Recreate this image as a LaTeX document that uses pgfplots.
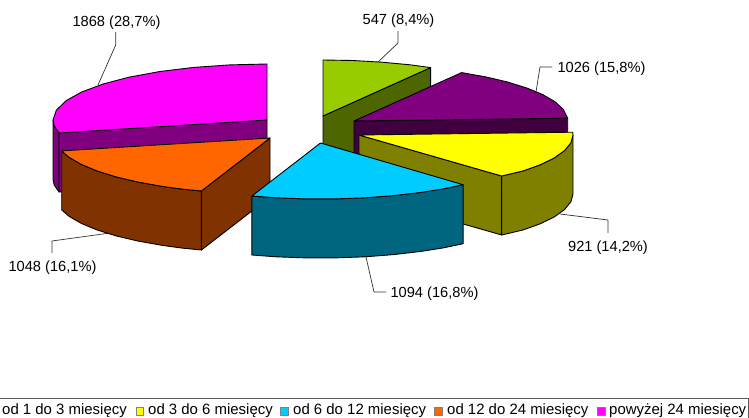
\documentclass[border=0pt]{standalone}
\usepackage{pgfplots}
\pgfplotsset{compat=1.18}
\usepackage{fontspec}
\setmainfont{Liberation Sans}
\definecolor{gA}{HTML}{99CC00}\definecolor{gB}{HTML}{4D6600}
\definecolor{pA}{HTML}{800080}\definecolor{pB}{HTML}{400040}
\definecolor{yA}{HTML}{FFFF00}\definecolor{yB}{HTML}{808000}
\definecolor{cA}{HTML}{00CCFF}\definecolor{cB}{HTML}{006680}
\definecolor{oA}{HTML}{FF6600}\definecolor{oB}{HTML}{803300}
\definecolor{mA}{HTML}{FF00FF}\definecolor{mB}{HTML}{800080}
\tikzset{
  lbl/.style={font=\fontsize{14.7}{17}\selectfont, text=black, inner sep=0pt, anchor=center},
  lgd/.style={font=\fontsize{15}{17}\selectfont, text=black, inner sep=0pt, anchor=base west},
}
\begin{document}
\begin{tikzpicture}
\useasboundingbox (0,0) rectangle (749bp,418bp);
\begin{axis}[
  scale only axis, width=749bp, height=418bp,
  at={(0,0)}, anchor=south west,
  xmin=0, xmax=749, ymin=0, ymax=418, y dir=reverse,
  axis lines=none, no markers, clip=true,
  every axis plot/.append style={line width=0.9bp, draw=black, line join=round},
]
% leader lines
\addplot[line width=0.7bp, draw=black!80] coordinates {(98,85) (115.7,45) (115.7,32)};
\addplot[line width=0.7bp, draw=black!80] coordinates {(378,62) (398,43) (398,31)};
\addplot[line width=0.7bp, draw=black!80] coordinates {(536,92) (540,67) (552,67)};
\addplot[line width=0.7bp, draw=black!80] coordinates {(560,214) (608,220) (608,233)};
\addplot[line width=0.7bp, draw=black!80] coordinates {(366,257) (374,292) (386,292)};
\addplot[line width=0.7bp, draw=black!80] coordinates {(110,233) (52,241) (52,253)};
% magenta slice
\addplot[fill=mB] coordinates {(53,120) (54.2,125.9) (59,133) (59,192) (54.2,185) (53,179)} --cycle;
\addplot[fill=mB] coordinates {(59,133) (267,120) (267,179) (59,192)} --cycle;
\addplot[fill=mA] coordinates {(267,64) (229.8,64.9) (193.8,67.4) (160,71.5) (129.4,77.1) (103.1,84) (81.7,92) (65.9,100.8) (56.3,110.3) (53,120) (54.2,125.9) (59,133) (267,120)} --cycle;
% green slice
\addplot[fill=gB] coordinates {(323,116) (430.6,67.6) (430.6,127) (323,175)} --cycle;
\addplot[fill=gA] coordinates {(323,60) (352.8,60.5) (382,62.2) (410,64.8) (430.6,67.6) (323,116)} --cycle;
% purple slice
\addplot[fill=pB] coordinates {(354,121) (567.7,118.2) (567.7,177) (354,180)} --cycle;
\addplot[fill=pA] coordinates {(461.6,72.6) (485.8,76.9) (507.9,82.1) (527.1,88.1) (542.9,94.7) (555.1,101.8) (563.3,109.4) (567.7,118.2) (354,121)} --cycle;
% yellow slice
\addplot[fill=yB] coordinates {(359,135) (501.6,176) (501.6,235) (359,194)} --cycle;
\addplot[fill=yB] coordinates {(501.6,176) (522.9,171) (540.5,164.7) (554.5,157.8) (564.7,150.4) (570.9,142.8) (573,135) (573,194) (570.9,201.8) (564.7,209.4) (554.5,216.8) (540.5,223.7) (522.9,230) (501.6,235)} --cycle;
\addplot[fill=yA] coordinates {(359,135) (572.7,132.2) (573,135) (570.9,142.8) (564.7,150.4) (554.5,157.8) (540.5,164.7) (522.9,171) (501.6,176)} --cycle;
% orange slice
\addplot[fill=oB] coordinates {(270,138) (201.4,191) (201.4,250) (270,197)} --cycle;
\addplot[fill=oB] coordinates {(61.7,150.9) (68.9,157.2) (81.1,164.3) (96.9,170.9) (116.1,176.9) (138.2,182.1) (163,186.5) (183,189.2) (201.4,191) (201.4,250) (183,248.2) (163,245.5) (138.2,241.1) (116.1,235.9) (96.9,229.9) (81.1,223.3) (68.9,216.2) (61.7,209.9)} --cycle;
\addplot[fill=oA] coordinates {(270,138) (61.7,150.9) (68.9,157.2) (81.1,164.3) (96.9,170.9) (116.1,176.9) (138.2,182.1) (163,186.5) (183,189.2) (201.4,191)} --cycle;
% cyan slice
\addplot[fill=cB] coordinates {(463.1,184.7) (443.2,188.9) (421,192.4) (393.7,195.6) (365,197.8) (335.4,198.9) (305.6,198.9) (276,197.8) (251.9,196) (251.9,255) (276,256.8) (305.6,257.9) (335.4,257.9) (365,256.8) (393.7,254.6) (421,251.4) (443.2,247.9) (463.1,243.7)} --cycle;
\addplot[fill=cA] coordinates {(320.5,143) (463.1,184.7) (443.2,188.9) (421,192.4) (393.7,195.6) (365,197.8) (335.4,198.9) (305.6,198.9) (276,197.8) (251.9,196)} --cycle;
% data labels
\node[lbl] at (axis cs:116.5,22.5) {1868 (28,7\%)};
\node[lbl] at (axis cs:398.5,21) {547 (8,4\%)};
\node[lbl] at (axis cs:601.5,69) {1026 (15,8\%)};
\node[lbl] at (axis cs:608,248) {921 (14,2\%)};
\node[lbl] at (axis cs:434.5,294) {1094 (16,8\%)};
\node[lbl] at (axis cs:52.5,267.5) {1048 (16,1\%)};
% legend
\addplot[line width=1bp, draw=black!65] coordinates {(-5,398) (748.5,398) (748.5,425)};
\addplot[line width=0.6bp, draw=gray, fill=yA] coordinates {(136,407.5) (143.5,407.5) (143.5,415) (136,415)} --cycle;
\addplot[line width=0.6bp, draw=gray, fill=cA] coordinates {(280,407.5) (288,407.5) (288,415) (280,415)} --cycle;
\addplot[line width=0.6bp, draw=gray, fill=oA] coordinates {(434,407.5) (442,407.5) (442,415) (434,415)} --cycle;
\addplot[line width=0.6bp, draw=gray, fill=mA] coordinates {(597,407.5) (605,407.5) (605,415) (597,415)} --cycle;
\node[lgd] at (axis cs:2,414.5) {od 1 do 3 miesięcy};
\node[lgd] at (axis cs:148,414.5) {od 3 do 6 miesięcy};
\node[lgd] at (axis cs:293,414.5) {od 6 do 12 miesięcy};
\node[lgd] at (axis cs:447,414.5) {od 12 do 24 miesięcy};
\node[lgd] at (axis cs:609,414.5) {powyżej 24 miesięcy};
\end{axis}
\end{tikzpicture}
\end{document}
